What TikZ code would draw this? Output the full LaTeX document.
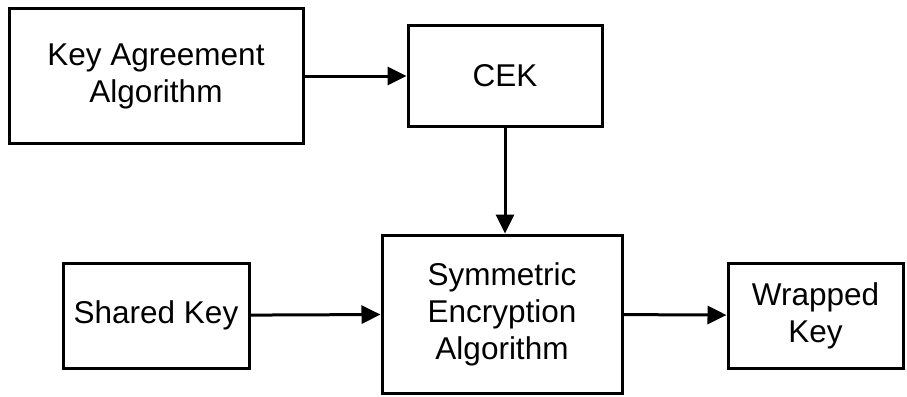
\documentclass[tikz,border=0pt]{standalone}
\usepackage{fontspec}
\setmainfont{Liberation Sans}
\usetikzlibrary{arrows.meta}
\tikzset{
  block/.style={draw, line width=3pt, align=center, inner sep=0pt,
    font=\fontsize{31.5}{37}\selectfont},
  flow/.style={line width=3pt, -{Triangle[length=19pt,width=18pt]}}
}
\begin{document}
\begin{tikzpicture}[x=1pt,y=-1pt]
  \useasboundingbox (0,0) rectangle (907,396);
  \node[block, minimum width=294pt, minimum height=134pt] (kaa) at (156,76) {Key Agreement\\Algorithm};
  \node[block, minimum width=194pt, minimum height=101pt] (cek) at (505,76) {CEK};
  \node[block, minimum width=240pt, minimum height=158pt] (sea) at (502,314) {Symmetric\\Encryption\\Algorithm};
  \node[block, minimum width=186pt, minimum height=105pt] (shared) at (156,315.5) {Shared Key};
  \node[block, minimum width=175pt, minimum height=105pt] (wrapped) at (815.5,315.5) {Wrapped\\Key};
  \draw[flow] (kaa) -- (cek);
  \draw[flow] (cek) -- (cek |- sea.north);
  \draw[flow] (shared) -- (sea);
  \draw[flow] (sea) -- (wrapped);
\end{tikzpicture}
\end{document}
